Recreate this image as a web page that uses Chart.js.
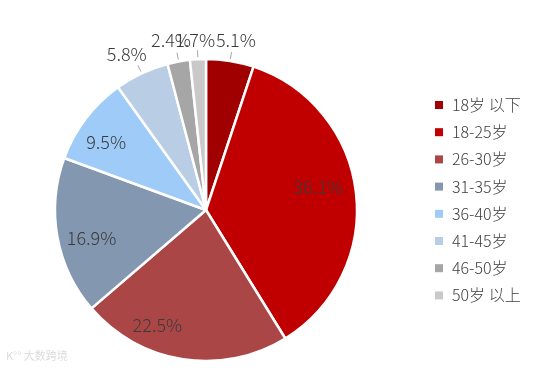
<!DOCTYPE html>
<html>
<head>
<meta charset="utf-8">
<script src="https://cdn.jsdelivr.net/npm/chart.js@4"></script>
<style>
  html, body { margin: 0; padding: 0; background: #fff; }
  #wrap { width: 556px; height: 370px; position: relative; }
</style>
</head>
<body>
<div id="wrap"><canvas id="myChart" width="556" height="370"></canvas></div>
<script>
const ageGroups = ["18岁 以下", "18-25岁", "26-30岁", "31-35岁", "36-40岁", "41-45岁", "46-50岁", "50岁 以上"];
const shares = [5.1, 36.1, 22.5, 16.9, 9.5, 5.8, 2.4, 1.7];
const sliceColors = ["#a00000", "#c00000", "#aa4646", "#8497b1", "#9ecbf8", "#b9cde5", "#a6a6a6", "#c9c9c9"];

// where each % label sits: fraction of radius, and angle nudge in degrees
const labelRadius = [1.14, 0.76, 0.83, 0.78, 0.80, 1.16, 1.15, 1.13];
const labelShift = [0.8, -5, 14, -3.5, -3, -1.7, -1.2, -0.6];

const FONT = '"Noto Sans CJK SC", "Noto Sans", sans-serif';

const pieLabels = {
  id: "pieLabels",
  afterDatasetsDraw(chart) {
    const ctx = chart.ctx;
    const arcs = chart.getDatasetMeta(0).data;
    ctx.save();
    arcs.forEach((arc, i) => {
      const p = arc.getProps(["startAngle", "endAngle", "x", "y", "outerRadius"], true);
      const mid = (p.startAngle + p.endAngle) / 2;
      const r = p.outerRadius;
      // leader line for labels outside the pie
      if (labelRadius[i] > 1) {
        ctx.strokeStyle = "#a6a6a6";
        ctx.lineWidth = 1;
        ctx.beginPath();
        ctx.moveTo(p.x + Math.cos(mid) * (r + 2), p.y + Math.sin(mid) * (r + 2));
        ctx.lineTo(p.x + Math.cos(mid) * (r + 9), p.y + Math.sin(mid) * (r + 9));
        ctx.stroke();
      }
      const a = mid + labelShift[i] * Math.PI / 180;
      const lx = p.x + Math.cos(a) * r * labelRadius[i];
      const ly = p.y + Math.sin(a) * r * labelRadius[i];
      ctx.font = "300 18px " + FONT;
      ctx.fillStyle = "#3a3a3a";
      ctx.textAlign = "center";
      ctx.textBaseline = "middle";
      ctx.fillText(shares[i].toFixed(1) + "%", lx, ly);
    });
    ctx.restore();
  }
};

const sideLegend = {
  id: "sideLegend",
  afterDraw(chart) {
    const ctx = chart.ctx;
    ctx.save();
    ctx.font = "300 16px " + FONT;
    ctx.textAlign = "left";
    ctx.textBaseline = "middle";
    chart.data.labels.forEach((lab, i) => {
      const y = 105 + i * 27.2;
      ctx.fillStyle = sliceColors[i];
      ctx.fillRect(435, y - 4, 8, 8);
      ctx.fillStyle = "#404040";
      ctx.fillText(lab, 452, y);
    });
    // faint source watermark
    ctx.font = "11px " + FONT;
    ctx.fillStyle = "#dcdcdc";
    ctx.fillText("K°° 大数跨境", 6, 356);
    ctx.restore();
  }
};

const ctx = document.getElementById("myChart").getContext("2d");
new Chart(ctx, {
  type: "pie",
  data: {
    labels: ageGroups,
    datasets: [{
      data: shares,
      backgroundColor: sliceColors,
      borderColor: "#ffffff",
      borderWidth: 2.5
    }]
  },
  options: {
    responsive: false,
    animation: false,
    radius: 151,
    layout: { padding: { left: 0, right: 144, top: 50, bottom: 0 } },
    plugins: {
      legend: { display: false },
      tooltip: { enabled: false }
    }
  },
  plugins: [pieLabels, sideLegend]
});
</script>
</body>
</html>
